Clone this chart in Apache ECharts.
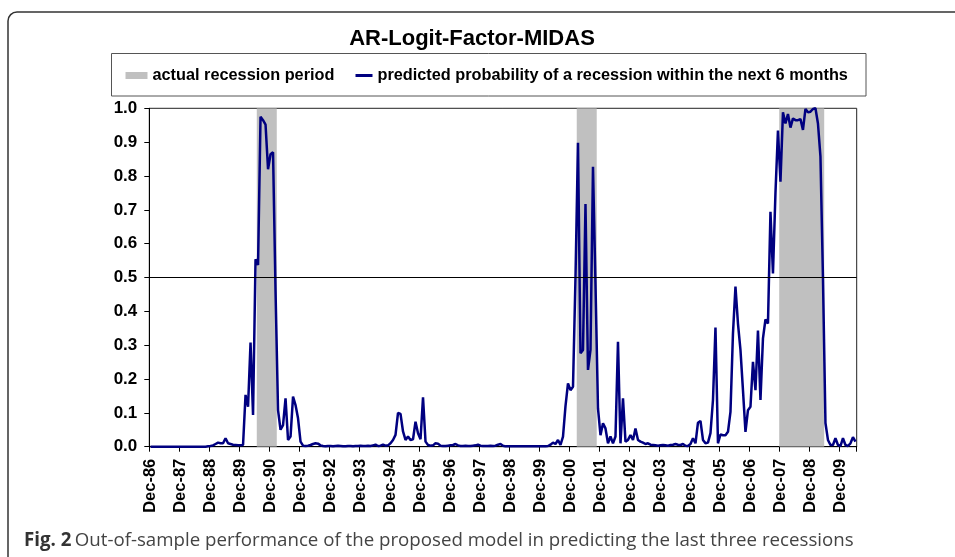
<!DOCTYPE html>
<html>
<head>
<meta charset="utf-8">
<script src="https://cdn.jsdelivr.net/npm/echarts@6/dist/echarts.min.js"></script>
<style>
html,body{margin:0;padding:0;background:#fff;}
#chart{width:955px;height:557px;}
</style>
</head>
<body>
<div id="chart"></div>
<script>
// ---- data ----
const titleText = 'AR-Logit-Factor-MIDAS';
const recessionName = 'actual recession period';
const probName = 'predicted probability of a recession within the next 6 months';
const captionBold = 'Fig. 2';
const captionText = 'Out-of-sample performance of the proposed model in predicting the last three recessions';

// monthly categories Dec-86 ... Jun-10
const monthNames = ['Jan','Feb','Mar','Apr','May','Jun','Jul','Aug','Sep','Oct','Nov','Dec'];
const firstYear = 1986, firstMonth = 11, monthCount = 283;
const categories = [];
for (let i = 0; i < monthCount; i++) {
  const m = (firstMonth + i) % 12;
  const y = firstYear + Math.floor((firstMonth + i) / 12);
  categories.push(monthNames[m] + '-' + String(y % 100).padStart(2, '0'));
}

// recession months (first and last shaded month)
const recessionStart = ['Jul-90', 'Mar-01', 'Dec-07'];
const recessionEnd   = ['Feb-91', 'Oct-01', 'May-09'];

// predicted probability, one value per month from Dec-86
const probability = [
  0,0,0,0,0,0,0,0,0,0,
  0,0,0,0,0,0,0,0,0,0,
  0,0,0,0.001,0.002,0.004,0.008,0.012,0.01,0.01,
  0.025,0.01,0.008,0.006,0.005,0.004,0.004,0.005,0.153,0.118,
  0.308,0.094,0.554,0.537,0.975,0.965,0.952,0.82,0.864,0.87,
  0.46,0.108,0.05,0.064,0.143,0.02,0.03,0.148,0.123,0.084,
  0.015,0.003,0.002,0.003,0.005,0.008,0.01,0.009,0.004,0.002,
  0.001,0.002,0.002,0.001,0.002,0.003,0.002,0.001,0.001,0.002,
  0.002,0.001,0.002,0.002,0.003,0.002,0.002,0.003,0.002,0.004,
  0.006,0.002,0.003,0.006,0.003,0.004,0.01,0.02,0.035,0.1,
  0.097,0.045,0.02,0.03,0.02,0.022,0.074,0.04,0.022,0.146,
  0.015,0.005,0.003,0.004,0.01,0.009,0.003,0.002,0.002,0.003,
  0.004,0.005,0.008,0.004,0.002,0.002,0.003,0.002,0.002,0.003,
  0.004,0.006,0.003,0.002,0.002,0.002,0.003,0.002,0.003,0.006,
  0.008,0.003,0.001,0.001,0.001,0.001,0.001,0.001,0.001,0.001,
  0.001,0.001,0.001,0.001,0.001,0.001,0.001,0.001,0.001,0.002,
  0.006,0.012,0.008,0.02,0.005,0.03,0.12,0.187,0.167,0.177,
  0.5,0.898,0.276,0.286,0.717,0.227,0.286,0.827,0.48,0.113,
  0.034,0.069,0.054,0.01,0.03,0.01,0.03,0.31,0.01,0.143,
  0.015,0.02,0.034,0.02,0.054,0.02,0.015,0.012,0.008,0.01,
  0.006,0.005,0.004,0.003,0.004,0.005,0.004,0.003,0.005,0.006,
  0.008,0.006,0.005,0.008,0.003,0.002,0.008,0.025,0.01,0.071,
  0.076,0.02,0.01,0.012,0.04,0.138,0.352,0.01,0.036,0.034,
  0.034,0.044,0.103,0.335,0.473,0.364,0.286,0.167,0.044,0.108,
  0.118,0.251,0.167,0.343,0.138,0.32,0.376,0.364,0.694,0.512,
  0.75,0.934,0.783,0.988,0.955,0.983,0.943,0.97,0.965,0.965,
  0.968,0.936,0.998,0.988,0.99,0.998,1.0,0.955,0.857,0.5,
  0.07,0.02,0.005,0.005,0.025,0.005,0.002,0.025,0.005,0.002,
  0.01,0.028,0.015
];

const thresholdValue = 0.5;
const yMin = 0, yMax = 1, yStep = 0.1;

// ---- build ----
const recessionData = recessionStart.map((s, r) => [categories.indexOf(s), categories.indexOf(recessionEnd[r])]);

const chart = echarts.init(document.getElementById('chart'), null, {renderer: 'canvas'});
const FONT = 'Liberation Sans, Arial, sans-serif';

function renderRecession(params, api) {
  const a = api.value(0), b = api.value(1);
  const band = api.size([1, 0])[0];
  const p0 = api.coord([a, yMax]);
  const p1 = api.coord([b, yMin]);
  const x0 = p0[0] - band / 2, x1 = p1[0] + band / 2;
  return {
    type: 'rect',
    shape: {x: x0, y: p0[1], width: x1 - x0, height: p1[1] - p0[1]},
    style: {fill: '#c0c0c0'}
  };
}

chart.setOption({
  animation: false,
  backgroundColor: '#fff',
  title: {
    text: titleText,
    left: 467,
    textAlign: 'center',
    top: 23,
    textStyle: {fontFamily: FONT, fontSize: 22, fontWeight: 'bold', color: '#000'}
  },
  legend: [
    {
      data: [{name: recessionName, icon: 'rect'}],
      left: 125.5, top: 67.5, padding: 0,
      itemWidth: 22, itemHeight: 7,
      textStyle: {fontFamily: FONT, fontSize: 16.3, fontWeight: 'bold', color: '#000'},
      selectedMode: false
    },
    {
      data: [{name: probName, icon: 'rect'}],
      left: 355.5, top: 67.5, padding: 0,
      itemWidth: 17, itemHeight: 3,
      textStyle: {fontFamily: FONT, fontSize: 16.3, fontWeight: 'bold', color: '#000'},
      selectedMode: false
    }
  ],
  grid: {
    left: 149.3, top: 108.3, right: 98.3, bottom: 110.3,
    show: true, borderColor: '#222', borderWidth: 1, backgroundColor: 'transparent'
  },
  xAxis: {
    type: 'category',
    data: categories,
    boundaryGap: true,
    axisLine: {lineStyle: {color: '#000', width: 1}},
    axisTick: {show: true, interval: 11, length: 5, inside: false, lineStyle: {color: '#000'}},
    axisLabel: {
      interval: 11, rotate: 90, margin: 12,
      fontFamily: FONT, fontSize: 16.5, fontWeight: 'bold', color: '#000'
    },
    splitLine: {show: false}
  },
  yAxis: {
    type: 'value',
    min: yMin, max: yMax, interval: yStep,
    axisLine: {show: true, lineStyle: {color: '#000', width: 1}},
    axisTick: {show: true, length: 5, lineStyle: {color: '#000'}},
    axisLabel: {
      margin: 12, fontFamily: FONT, fontSize: 17, fontWeight: 'bold', color: '#000',
      formatter: v => v.toFixed(1)
    },
    splitLine: {show: false}
  },
  series: [
    {
      name: recessionName,
      type: 'custom',
      renderItem: renderRecession,
      data: recessionData,
      encode: {x: [0, 1]},
      itemStyle: {color: '#c0c0c0'},
      silent: true,
      clip: true,
      z: 1
    },
    {
      name: probName,
      type: 'line',
      data: probability,
      symbol: 'none',
      showSymbol: false,
      lineStyle: {color: '#000080', width: 2.5},
      itemStyle: {color: '#000080'},
      z: 3,
      markLine: {
        silent: true,
        symbol: ['none', 'none'],
        label: {show: false},
        lineStyle: {color: '#000', width: 1, type: 'solid'},
        data: [{yAxis: thresholdValue}]
      }
    }
  ],
  graphic: [
    {
      type: 'rect', silent: true,
      shape: {x: 8, y: 12, width: 1000, height: 600, r: 9},
      style: {fill: 'none', stroke: '#333', lineWidth: 1.5}
    },
    {
      type: 'rect', silent: true,
      shape: {x: 111.5, y: 53.5, width: 754.5, height: 42.5},
      style: {fill: 'none', stroke: '#555', lineWidth: 1}
    },
    {
      type: 'text', silent: true,
      x: 24, y: 541,
      style: {
        text: '{b|' + captionBold + '} {n|' + captionText + '}',
        verticalAlign: 'middle',
        rich: {
          b: {fontFamily: 'Open Sans, sans-serif', fontSize: 18.7, fontWeight: 'bold', fill: '#333'},
          n: {fontFamily: 'Open Sans, sans-serif', fontSize: 18.7, fill: '#444'}
        }
      }
    }
  ]
});
</script>
</body>
</html>
